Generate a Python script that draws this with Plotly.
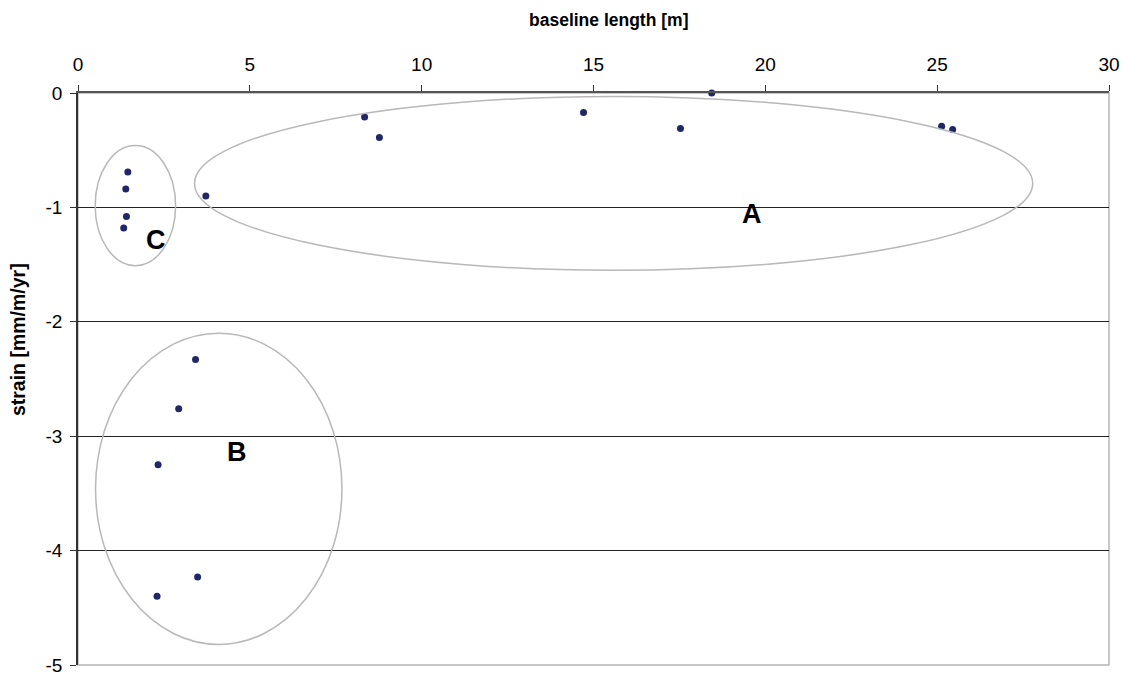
import plotly.graph_objects as go

# data: baseline length [m] and strain [mm/m/yr]
baseline_length = [8.34, 8.77, 14.71, 17.53, 18.44, 25.13, 25.45, 3.72,
                   1.45, 1.39, 1.41, 1.33,
                   3.42, 2.93, 2.33, 3.48, 2.30]
strain = [-0.21, -0.39, -0.17, -0.31, 0.0, -0.29, -0.32, -0.90,
          -0.69, -0.84, -1.08, -1.18,
          -2.33, -2.76, -3.25, -4.23, -4.40]

# group ellipses (data coordinates): x0, x1, y0, y1
group_names = ["A", "B", "C"]
ellipse_x0 = [3.39, 0.51, 0.50]
ellipse_x1 = [27.78, 7.68, 2.84]
ellipse_y0 = [-1.55, -4.82, -1.51]
ellipse_y1 = [-0.03, -2.10, -0.46]
label_x = [19.6, 4.64, 2.26]
label_y = [-1.06, -3.14, -1.285]

x_ticks = [0, 5, 10, 15, 20, 25, 30]
y_ticks = [0, -1, -2, -3, -4, -5]
y_tick_text = ["0", "-1", "-2", "-3", "-4", "-5"]

fig = go.Figure()
fig.add_trace(go.Scatter(
    x=baseline_length, y=strain, mode="markers",
    marker=dict(color="#1f2766", size=7),
    showlegend=False, cliponaxis=False, hoverinfo="skip",
))

shapes = []
# light gray plot frame
shapes.append(dict(type="rect", xref="paper", yref="paper", x0=0, x1=1, y0=0, y1=1,
                   line=dict(color="#b5b5b5", width=1.5), layer="below"))
for i in range(len(group_names)):
    shapes.append(dict(type="circle", xref="x", yref="y",
                       x0=ellipse_x0[i], x1=ellipse_x1[i],
                       y0=ellipse_y0[i], y1=ellipse_y1[i],
                       line=dict(color="#b8b8b8", width=1.5), layer="above"))
fig.update_layout(shapes=shapes)

annotations = []
for i, name in enumerate(group_names):
    annotations.append(dict(x=label_x[i], y=label_y[i], xref="x", yref="y",
                            text="<b>%s</b>" % name, showarrow=False,
                            font=dict(size=27, color="black", family="Liberation Sans, Arial")))
annotations.append(dict(x=0.515, y=1.0, xref="paper", yref="paper", yshift=73,
                        yanchor="middle", xanchor="center",
                        text="<b>baseline length [m]</b>", showarrow=False,
                        font=dict(size=17.5, color="black")))
annotations.append(dict(x=0, y=0.568, xref="paper", yref="paper", xshift=-60,
                        xanchor="center", yanchor="middle",
                        text="<b>strain [mm/m/yr]</b>", showarrow=False, textangle=-90,
                        font=dict(size=19.5, color="black")))
fig.update_layout(annotations=annotations)

fig.update_layout(
    width=1130, height=677,
    margin=dict(l=78, r=21, t=93, b=12),
    paper_bgcolor="white", plot_bgcolor="white",
    font=dict(family="Liberation Sans, Arial", size=19, color="black"),
    xaxis=dict(range=[0, 30], side="top", tickvals=x_ticks,
               ticks="outside", ticklen=6, tickcolor="#333",
               ticklabelstandoff=7, automargin=False,
               showline=True, linecolor="#555", linewidth=1.5,
               showgrid=False, zeroline=False, mirror=False,
               tickfont=dict(size=19)),
    yaxis=dict(range=[-5, 0], tickvals=y_ticks, ticktext=y_tick_text,
               ticks="outside", ticklen=6, tickcolor="#333",
               ticklabelstandoff=4, automargin=False,
               showline=True, linecolor="#333", linewidth=1.5,
               showgrid=True, gridcolor="#222", gridwidth=1,
               zeroline=False, tickfont=dict(size=19)),
)

fig.write_html("out.html",
               config={"displayModeBar": False},
               post_script="document.body.style.margin='0';document.body.style.overflow='hidden';")
